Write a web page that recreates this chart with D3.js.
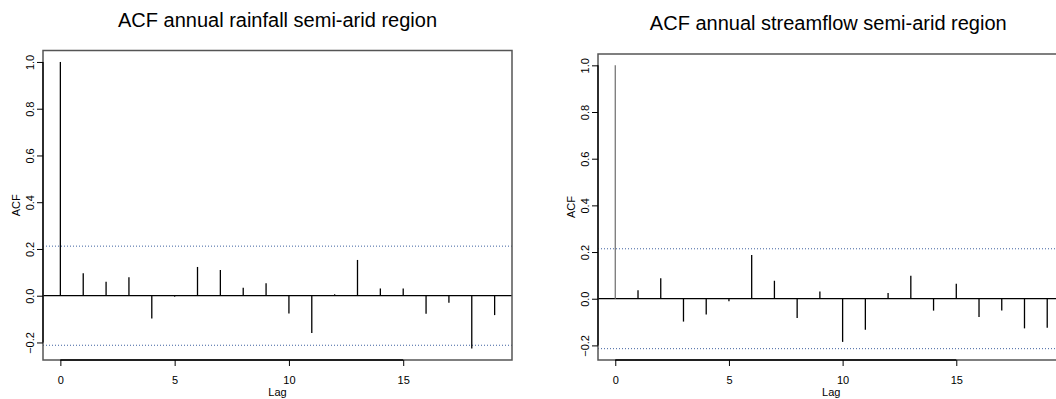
<!DOCTYPE html>
<html>
<head>
<meta charset="utf-8">
<style>
    body {
        margin: 0;
        background: white;
    }
    svg {
        display: block;
        font-family: 'Liberation Sans', Arial, Helvetica, sans-serif;
    }
</style>
</head>
<body>
<svg width="1056" height="399"></svg>

<script src="https://d3js.org/d3.v7.min.js"></script>
<script>
    // lags 0..19 and autocorrelations
    let lags = [0, 1, 2, 3, 4, 5, 6, 7, 8, 9, 10, 11, 12, 13, 14, 15, 16, 17, 18, 19];
    let rainfallAcf = [1, 0.096, 0.06, 0.079, -0.097, -0.004, 0.123, 0.11, 0.034, 0.053,
        -0.076, -0.159, 0.006, 0.153, 0.031, 0.031, -0.077, -0.03, -0.226, -0.083];
    let streamflowAcf = [1, 0.036, 0.088, -0.098, -0.068, -0.011, 0.187, 0.077, -0.083, 0.031,
        -0.185, -0.133, 0.024, 0.098, -0.051, 0.064, -0.078, -0.05, -0.127, -0.124];
    let confLimits = [0.212, 0.214]; // +/- bands, rainfall then streamflow
    let titles = ["ACF annual rainfall semi-arid region", "ACF annual streamflow semi-arid region"];
    let xTicks = [0, 5, 10, 15];
    let yTicks = [-0.2, 0, 0.2, 0.4, 0.6, 0.8, 1.0];

    let svg = d3.select("svg");

    // panel boxes (pixel frame of each plot region)
    let panels = [
        { acf: rainfallAcf, ci: confLimits[0], title: titles[0], left: 43, right: 512, top: 50.5, bottom: 360, titleY: 27, titleShift: 0, zeroCol: "#000" },
        { acf: streamflowAcf, ci: confLimits[1], title: titles[1], left: 598, right: 1064.5, top: 54, bottom: 360, titleY: 30, titleShift: -3, zeroCol: "#777" }
    ];

    panels.forEach(function (p) {
        // R style 4% padding on both axes
        let xr = d3.extent(lags);
        let xpad = (xr[1] - xr[0]) * 0.04;
        let ymin = d3.min([d3.min(p.acf), -p.ci]);
        let ymax = d3.max([d3.max(p.acf), p.ci]);
        let ypad = (ymax - ymin) * 0.04;

        let x = d3.scaleLinear().domain([xr[0] - xpad, xr[1] + xpad]).range([p.left, p.right]);
        let y = d3.scaleLinear().domain([ymin - ypad, ymax + ypad]).range([p.bottom, p.top]);

        let g = svg.append("g");

        // confidence bands
        g.selectAll(".ci")
            .data([p.ci, -p.ci])
            .join("line")
            .attr("x1", p.left)
            .attr("x2", p.right)
            .attr("y1", d => y(d))
            .attr("y2", d => y(d))
            .style("stroke", "#3f62a0")
            .style("stroke-width", 1)
            .style("stroke-dasharray", "1,2");

        // zero line
        g.append("line")
            .attr("x1", p.left)
            .attr("x2", p.right)
            .attr("y1", y(0))
            .attr("y2", y(0))
            .style("stroke", "#000")
            .style("stroke-width", 1.3);

        // spikes
        g.selectAll(".spike")
            .data(lags)
            .join("line")
            .attr("x1", d => x(d))
            .attr("x2", d => x(d))
            .attr("y1", y(0))
            .attr("y2", (d, i) => y(p.acf[i]))
            .style("stroke", (d, i) => i == 0 ? p.zeroCol : "#000")
            .style("stroke-width", 1.3);

        // frame
        g.append("rect")
            .attr("x", p.left)
            .attr("y", p.top)
            .attr("width", p.right - p.left)
            .attr("height", p.bottom - p.top)
            .style("fill", "none")
            .style("stroke", "#555")
            .style("stroke-width", 1.5);

        // y axis
        let yAxis = g.append("g")
            .attr("transform", "translate(" + p.left + ",0)")
            .call(d3.axisLeft(y).tickValues(yTicks).tickSize(6).tickSizeOuter(0).tickFormat(d3.format(".1f")));
        yAxis.select(".domain").remove();
        yAxis.append("line")
            .attr("y1", y(yTicks[0]))
            .attr("y2", y(yTicks[yTicks.length - 1]))
            .style("stroke", "#000")
            .style("stroke-width", 1.3);
        yAxis.selectAll(".tick line").style("stroke", "#000");
        yAxis.selectAll(".tick text")
            .attr("transform", "rotate(-90)")
            .attr("x", 0)
            .attr("y", -9)
            .attr("dy", 0)
            .attr("text-anchor", "middle")
            .style("font-size", "11px")
            .style("fill", "#000");

        // x axis
        let xAxis = g.append("g")
            .attr("transform", "translate(0," + p.bottom + ")")
            .call(d3.axisBottom(x).tickValues(xTicks).tickSize(6).tickSizeOuter(0));
        xAxis.select(".domain").remove();
        xAxis.append("line")
            .attr("x1", x(xTicks[0]))
            .attr("x2", x(xTicks[xTicks.length - 1]))
            .style("stroke", "#000")
            .style("stroke-width", 1.3);
        xAxis.selectAll(".tick line").style("stroke", "#000");
        xAxis.selectAll(".tick text")
            .attr("y", 24)
            .attr("dy", 0)
            .style("font-size", "11px")
            .style("fill", "#000");

        // axis titles
        let cx = (p.left + p.right) / 2;
        let cy = (p.top + p.bottom) / 2;
        g.append("text")
            .attr("transform", "translate(" + (p.left - 23) + "," + cy + ") rotate(-90)")
            .attr("text-anchor", "middle")
            .style("font-size", "11px")
            .text("ACF");
        g.append("text")
            .attr("x", cx)
            .attr("y", 396)
            .attr("text-anchor", "middle")
            .style("font-size", "11px")
            .text("Lag");

        // main title
        g.append("text")
            .attr("x", cx + p.titleShift)
            .attr("y", p.titleY)
            .attr("text-anchor", "middle")
            .style("font-size", "20px")
            .text(p.title);
    });
</script>
</body>
</html>
